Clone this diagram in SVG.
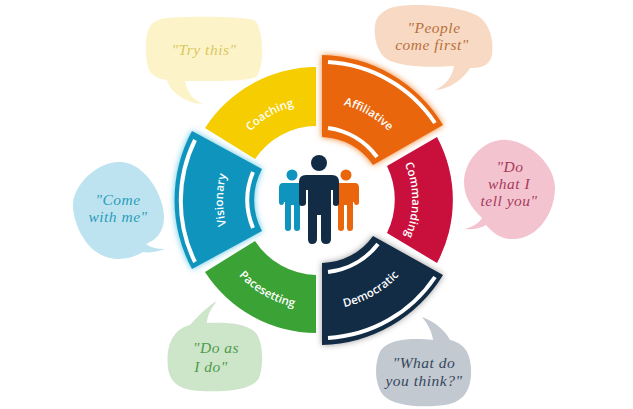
<svg xmlns="http://www.w3.org/2000/svg" width="633" height="409" viewBox="0 0 633 409">
<style>
.lab{font-family:"Open Sans","Liberation Sans",sans-serif;font-weight:600;font-size:11.5px;fill:#fff;text-anchor:middle}
.say{font-family:"Liberation Serif",serif;font-style:italic;font-size:15.5px;letter-spacing:.5px;text-anchor:middle}
.st{fill:none;stroke:#fff;stroke-width:4}
</style>
<defs>
<filter id="glow" x="-20%" y="-20%" width="140%" height="140%"><feGaussianBlur stdDeviation="3"/></filter>
<path id="pCoach" d="M225.300 174.900A97 97 0 0 1 344.100 106.300"/>
<path id="pAff" d="M293.600 105.300A98 98 0 0 1 413.700 174.600"/>
<path id="pCom" d="M384.800 134.200A93 93 0 0 1 384.800 265.800"/>
<path id="pDem" d="M290.500 306.300A110 110 0 0 0 425.300 228.500"/>
<path id="pPace" d="M212.700 228.500A110 110 0 0 0 347.500 306.300"/>
<path id="pVis" d="M251.100 267.900A96 96 0 0 1 251.100 132.100"/>
</defs>
<g id="bubble-try"><path d="M167 18C190 16 240 16 254 20C264 26 265 70 256 77C245 82 205 81 185 81C187 93 195 101 203 104C188 104 170 93 167 80C150 78 146 70 146 48C146 28 150 20 167 18Z" fill="#fdf3c8"/><text class="say" x="204" y="55" fill="#d9c860">"Try this"</text></g>
<g id="bubble-come"><path d="M122 162C145 164 164 195 164 217C164 232 156 240 146 244C151 248 158 249 165 249C156 252 149 253 143 252C130 260 112 262 98 253C82 243 73 220 73 205C73 185 98 160 122 162Z" fill="#bde3f0"/><text class="say" x="118" y="205" fill="#2a9dba">"Come</text><text class="say" x="118" y="222" fill="#2a9dba">with me"</text></g>
<g id="bubble-people"><path d="M400 6C425 3 462 7 478 16C490 24 494 40 492 55C489 67 480 68 470 68C464 78 451 89 435 90C446 85 452 77 454 66C430 68 395 67 384 57C374 47 372 25 378 17C384 10 390 7 400 6Z" fill="#f7d9c4"/><text class="say" x="434" y="33" fill="#b9703c">"People</text><text class="say" x="432" y="50" fill="#b9703c">come first"</text></g>
<g id="bubble-do"><path d="M507 140C530 142 555 165 555 188C555 212 538 240 512 239C500 239 492 232 486 225C479 229 472 230 465 229C473 227 480 222 482 218C470 207 464 195 464 182C464 160 485 138 507 140Z" fill="#f3c4d0"/><text class="say" x="510" y="172" fill="#a83a5c">"Do</text><text class="say" x="509" y="189" fill="#a83a5c">what I</text><text class="say" x="509" y="206" fill="#a83a5c">tell you"</text></g>
<g id="bubble-doas"><path d="M190 325C198 316 208 306 217 301C211 308 207 316 207 323C225 322 247 323 256 333C263 342 264 365 259 378C252 390 228 392 200 391C180 390 170 383 168 368C166 350 170 330 190 325Z" fill="#cde5c9"/><text class="say" x="216" y="353" fill="#4d9c4c">"Do as</text><text class="say" x="211" y="372" fill="#4d9c4c">I do"</text></g>
<g id="bubble-what"><path d="M433 340C432 332 428 324 422 317C435 322 445 330 450 340C462 343 470 350 471 368C472 388 465 402 445 405C420 408 395 406 384 396C374 385 374 362 381 350C390 338 415 338 433 340Z" fill="#c3c9d1"/><text class="say" x="424" y="368" fill="#33475c">"What do</text><text class="say" x="424" y="386" fill="#33475c">you think?"</text></g>

<g id="coaching"><path d="M316 67V126A74 74 0 0 0 255 159L205 128A133 133 0 0 1 316 67Z" fill="#f5cd00"/><text class="lab"><textPath href="#pCoach" startOffset="50%">Coaching</textPath></text></g>
<g id="commanding"><path d="M437 137A133 133 0 0 1 437 263L387 233A76 76 0 0 0 387 166Z" fill="#c9103d"/><text class="lab"><textPath href="#pCom" startOffset="50%">Commanding</textPath></text></g>
<g id="pacesetting"><path d="M316 333V275A75 75 0 0 1 255 241L205 272A133 133 0 0 0 316 333Z" fill="#3ba335"/><text class="lab"><textPath href="#pPace" startOffset="50%">Pacesetting</textPath></text></g>

<g id="affiliative"><path d="M322 55A145 145 0 0 1 443 125L373 165A64 64 0 0 0 322 137Z" fill="#f0802a" filter="url(#glow)"/><path d="M322 55A145 145 0 0 1 443 125L373 165A64 64 0 0 0 322 137Z" fill="#e9660c"/><path class="st" d="M328 62A138 138 0 0 1 435 123M328 128A73 73 0 0 1 377 157"/><text class="lab"><textPath href="#pAff" startOffset="50%">Affiliative</textPath></text></g>
<g id="democratic"><path d="M322 263A64 64 0 0 0 373 236L443 275A145 145 0 0 1 322 345Z" fill="#555" opacity=".6" filter="url(#glow)"/><path d="M322 263A64 64 0 0 0 373 236L443 275A145 145 0 0 1 322 345Z" fill="#122c46"/><path class="st" d="M328 272A73 73 0 0 0 378 244M328 338A138 138 0 0 0 435 277"/><text class="lab"><textPath href="#pDem" startOffset="50%">Democratic</textPath></text></g>
<g id="visionary"><path d="M192 131L262 169A65 65 0 0 0 262 231L192 269A145 145 0 0 1 192 131Z" fill="#56c4e2" filter="url(#glow)"/><path d="M192 131L262 169A65 65 0 0 0 262 231L192 269A145 145 0 0 1 192 131Z" fill="#0f95bd"/><path class="st" d="M195 140A138 138 0 0 0 195 262M253 172A73 73 0 0 0 253 228"/><text class="lab"><textPath href="#pVis" startOffset="50%">Visionary</textPath></text></g>

<g id="people">
<g fill="#0f95bd"><circle cx="292" cy="175" r="5.500"/><path d="M283 183H305V205H300V228Q300 231 297 231 294 231 294 228V205H291V228Q291 231 288 231 285 231 285 228V202H284Q284 205 281.500 205 279 205 279 202V188Q279 183 283 183Z"/></g>
<g fill="#e9660c"><circle cx="346" cy="175" r="5.500"/><path d="M355 183H333V205H338V228Q338 231 341 231 344 231 344 228V205H347V228Q347 231 350 231 353 231 353 228V202H354Q354 205 356.500 205 359 205 359 202V188Q359 183 355 183Z"/></g>
<g fill="#122c46"><circle cx="319" cy="163" r="8"/><path d="M306 175H332Q339 175 339 182V203Q339 206 336 206 333 206 333 203V190H331V239Q331 244 326 244 321 244 321 239V215H317V239Q317 244 312 244 308 244 308 239V190H306V203Q306 206 302 206 299 206 299 203V182Q299 175 306 175Z"/></g>
</g>
</svg>
